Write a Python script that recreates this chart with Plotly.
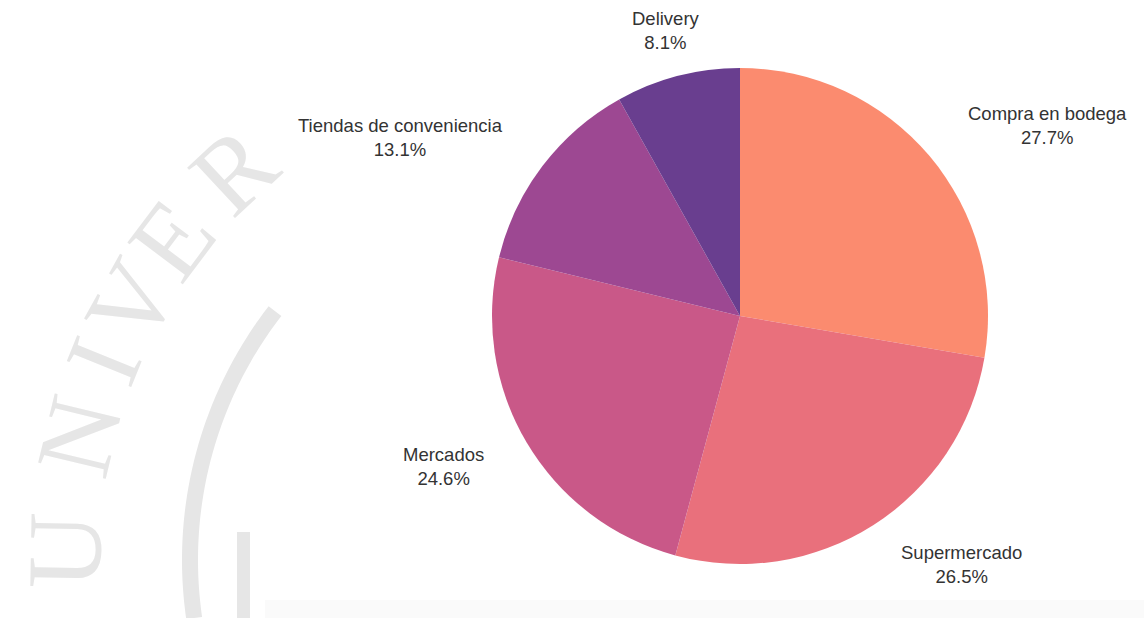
import numpy as np
import plotly.graph_objects as go

# Canales de compra
canales = ["Compra en bodega", "Supermercado", "Mercados",
           "Tiendas de conveniencia", "Delivery"]
porcentajes = [27.7, 26.5, 24.6, 13.1, 8.1]
colores = ["#FB8B6F", "#E9707C", "#C95888", "#9D4892", "#693E8F"]

W, H = 1144, 618

# geometría del gráfico de torta (en píxeles)
PIE_CX, PIE_CY, PIE_R = 740, 316, 248
LABEL_R = PIE_R + 47
FONT_SIZE = 18.5


def px(x, y):
    return x / W, 1 - y / H


fig = go.Figure()
fig.add_trace(go.Pie(
    labels=canales,
    values=porcentajes,
    sort=False,
    direction="clockwise",
    rotation=0,
    marker=dict(colors=colores, line=dict(width=0)),
    textinfo="none",
    domain=dict(x=[(PIE_CX - PIE_R) / W, (PIE_CX + PIE_R) / W],
                y=[1 - (PIE_CY + PIE_R) / H, 1 - (PIE_CY - PIE_R) / H]),
    showlegend=False,
    hoverinfo="label+percent",
))

annotations = []

# etiquetas exteriores: nombre y porcentaje junto a cada porción
total = sum(porcentajes)
acum = np.cumsum([0] + porcentajes[:-1])
for nombre, val, ini in zip(canales, porcentajes, acum):
    theta = np.radians((ini + val / 2) / total * 360)
    dx, dy = np.sin(theta), -np.cos(theta)
    x, y = PIE_CX + LABEL_R * dx, PIE_CY + LABEL_R * dy
    if dx > 0.3:
        xanchor = "left"
    elif dx < -0.3:
        xanchor = "right"
    else:
        xanchor = "center"
    xp, yp = px(x, y)
    annotations.append(dict(
        text=f"{nombre}<br>{val / total * 100:.1f}%",
        x=xp, y=yp, xref="paper", yref="paper",
        xanchor=xanchor, yanchor="middle", showarrow=False,
        align="center",
        font=dict(family="Liberation Sans, Arial, sans-serif", size=FONT_SIZE, color="#333333"),
    ))

# Marca de agua (logotipo) en el margen izquierdo
cx, cy = 597, 560
gris = "#e6e6e6"

# arco del escudo
r_arc = 407
t0 = np.arccos((cx - 275) / r_arc)
t1 = -np.arcsin((H - cy) / r_arc)
ts = np.linspace(t0, t1, 80)
pts = [(cx - r_arc * np.cos(t), cy - r_arc * np.sin(t)) for t in ts]
path = "M " + " L ".join(f"{px(x, y)[0]:.5f},{px(x, y)[1]:.5f}" for x, y in pts)
shapes = [
    dict(type="path", path=path, xref="paper", yref="paper", layer="below",
         line=dict(color=gris, width=16)),
    dict(type="rect", xref="paper", yref="paper", layer="below",
         x0=px(237, 0)[0], x1=px(250, 0)[0], y0=0, y1=px(0, 532)[1],
         fillcolor=gris, line=dict(width=0)),
    dict(type="rect", xref="paper", yref="paper", layer="below",
         x0=px(265, 0)[0], x1=1, y0=0, y1=px(0, 600)[1],
         fillcolor="#fafafa", line=dict(width=0)),
]

letras = ["U", "N", "I", "V", "E", "R"]
angulos = [1, 13.5, 22, 29, 37, 47]
r_txt = 532
for letra, a in zip(letras, angulos):
    ar = np.radians(a)
    x, y = cx - r_txt * np.cos(ar), cy - r_txt * np.sin(ar)
    xp, yp = px(x, y)
    annotations.append(dict(
        text=letra, x=xp, y=yp, xref="paper", yref="paper",
        xanchor="center", yanchor="middle", showarrow=False,
        textangle=-90 + a,
        font=dict(family="Liberation Serif, Times New Roman, serif", size=106, color=gris),
    ))

fig.update_layout(
    width=W, height=H,
    margin=dict(l=0, r=0, t=0, b=0),
    paper_bgcolor="white",
    plot_bgcolor="white",
    shapes=shapes,
    annotations=annotations,
)

fig.write_html("out.html")
